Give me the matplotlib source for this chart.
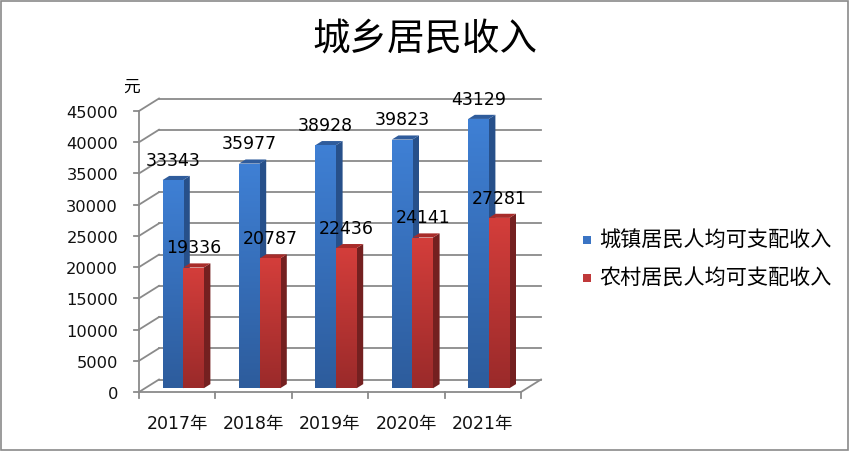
import numpy as np
import matplotlib
matplotlib.use("Agg")
import matplotlib.pyplot as plt
from matplotlib.patches import Polygon, Rectangle
from matplotlib.colors import LinearSegmentedColormap

plt.rcParams['font.family'] = ['DejaVu Sans', 'Noto Sans CJK SC']

# ---- data ----
years = ["2017年", "2018年", "2019年", "2020年", "2021年"]
urban = [33343, 35977, 38928, 39823, 43129]
rural = [19336, 20787, 22436, 24141, 27281]
series_names = ["城镇居民人均可支配收入", "农村居民人均可支配收入"]
title = "城乡居民收入"
unit = "元"
yticks = list(range(0, 45001, 5000))

W, H = 850, 452
fig = plt.figure(figsize=(W / 100, H / 100), dpi=100)

# front plane in pixels
x0p, x1p = 139, 521
y0p, y1p = 393, 112
ax = fig.add_axes([x0p / W, (H - y0p) / H, (x1p - x0p) / W, (y0p - y1p) / H])
ax.set_xlim(0, 5)
ax.set_ylim(0, 45000)
ax.axis('off')

sx = (x1p - x0p) / 5.0
sy = (y0p - y1p) / 45000.0
DX = 20 / sx        # depth offset (x data units)
DY = 12.5 / sy      # depth offset (y data units)

grid_c = '#8a8a8a'
glw = 1.3

# back wall gridlines & left wall diagonals
for v in yticks:
    ax.plot([DX, 5 + DX], [v + DY, v + DY], color=grid_c, lw=glw, clip_on=False, zorder=1)
    ax.plot([0, DX], [v, v], color=grid_c, lw=0, clip_on=False, zorder=1)
    ax.plot([0, DX], [v, v + DY], color=grid_c, lw=glw, clip_on=False, zorder=1)
    ax.plot([-5 / sx, 0], [v, v], color=grid_c, lw=glw, clip_on=False, zorder=1)
    ax.text(-21 / sx, v, f"{v}", ha='right', va='center_baseline', fontsize=11.7, color='#111111')
# front axis
ax.plot([0, 0], [0, 45000], color=grid_c, lw=glw, clip_on=False, zorder=1)
# floor
ax.plot([0, 5], [0, 0], color=grid_c, lw=glw, clip_on=False, zorder=1)
ax.plot([5, 5 + DX], [0, DY], color=grid_c, lw=glw, clip_on=False, zorder=1)
for i in range(6):
    ax.plot([i, i], [0, -6 / sy], color=grid_c, lw=glw, clip_on=False, zorder=1)

ax.text(-8 / sx, 45000 + 25 / sy, unit, ha='center', va='center', fontsize=12,
        family=['Noto Sans CJK SC'])

# bars
f = 0.3          # depth position of bar front
d = 0.33         # bar depth fraction
bw = 20.6 / sx
ddx, ddy = d * DX, d * DY
base = f * DY

styles = [
    dict(top='#3f80d5', bot='#2d5c9c', side='#27508a', cap='#2f5c9c', legend='#3a74c4'),
    dict(top='#d43e3b', bot='#9a2a2a', side='#742020', cap='#a82c2a', legend='#c0393a'),
]

z = 3
for i in range(5):
    cx = i + 0.5 + f * DX
    for s, (vals, st, sgn) in enumerate([(urban, styles[0], -1), (rural, styles[1], 0)]):
        v = vals[i]
        left = cx + (bw * sgn)
        right = left + bw
        top = base + v
        side = Polygon([[right, base], [right, top], [right + ddx, top + ddy], [right + ddx, base + ddy]],
                       closed=True, facecolor=st['side'], edgecolor='none', zorder=z, clip_on=False)
        ax.add_patch(side)
        cap = Polygon([[left, top], [right, top], [right + ddx, top + ddy], [left + ddx, top + ddy]],
                      closed=True, facecolor=st['cap'], edgecolor='none', zorder=z, clip_on=False)
        ax.add_patch(cap)
        b = ax.bar(left, v, width=bw, bottom=base, align='edge', color=st['top'],
                   edgecolor='none', zorder=z + 0.5, clip_on=False)[0]
        cmap = LinearSegmentedColormap.from_list('g', [st['bot'], st['top']])
        grad = np.linspace(0, 1, 256).reshape(-1, 1)
        im = ax.imshow(grad, cmap=cmap, origin='lower', aspect='auto',
                       extent=[left, right, base, top], zorder=z + 0.6, clip_on=True)
        im.set_clip_path(b)
        ax.annotate(f"{v}", xy=((left + right) / 2, top), xytext=(0, 11), textcoords='offset points',
                    ha='center', va='baseline', fontsize=12.5, color='black', zorder=20)
        z += 1

ax.set_xlim(0, 5)
ax.set_ylim(0, 45000)

for i, yl in enumerate(years):
    ax.annotate(yl, xy=(i + 0.5, 0), xytext=(0, -21), textcoords='offset points',
                ha='center', va='center_baseline', fontsize=12.5, color='#111111')

# title
fig.text(425 / W, 1 - 40 / H, title, ha='center', va='center', fontsize=27,
         family=['Noto Sans CJK SC'])

# legend
for k, (name, st) in enumerate(zip(series_names, styles)):
    yc = [241, 279][k]
    fig.patches.append(Rectangle((583 / W, 1 - (yc + 4) / H), 8 / W, 8 / H, transform=fig.transFigure,
                                 facecolor=st['legend'], edgecolor='none'))
    fig.text(599 / W, 1 - yc / H, name, ha='left', va='center', fontsize=15.2,
             family=['Noto Sans CJK SC'])

# chart border
fig.patches.append(Rectangle((0.5 / W, 1.5 / H), (W - 3) / W, (H - 3) / H, transform=fig.transFigure,
                             facecolor='none', edgecolor='#8a8a8a', lw=1.2))

fig.savefig("out.png", dpi=100)
